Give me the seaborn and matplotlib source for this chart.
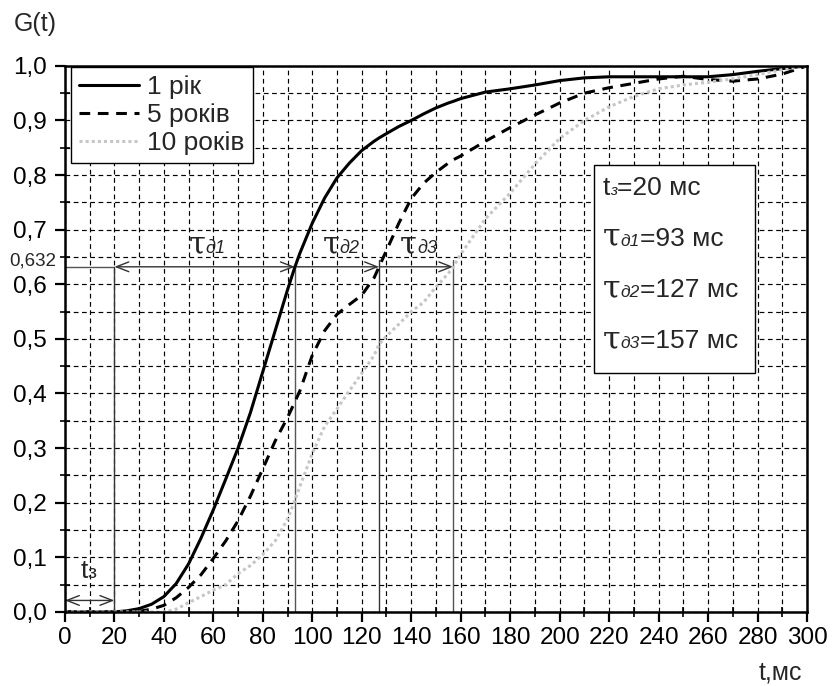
import matplotlib
matplotlib.use("Agg")
import matplotlib.pyplot as plt
import pandas as pd
import seaborn as sns
from matplotlib.offsetbox import TextArea, HPacker, AnnotationBbox
from matplotlib.patches import Rectangle
from matplotlib.ticker import MultipleLocator, FuncFormatter

# Transient characteristic G(t) for three ageing times
t_ms = [0, 10, 20, 25, 30, 35, 40, 45, 50, 55, 60, 65, 70, 75, 80, 85, 90, 93,
        95, 100, 105, 110, 115, 120, 125, 127, 130, 135, 140, 145, 150, 155,
        157, 160, 170, 180, 190, 200, 210, 220, 230, 240, 250, 260, 270, 280,
        290, 300]
g_1yr = [0, 0, 0, 0.002, 0.006, 0.014, 0.028, 0.052, 0.088, 0.135, 0.187,
         0.243, 0.300, 0.365, 0.440, 0.515, 0.590, 0.632, 0.657, 0.712, 0.758,
         0.795, 0.822, 0.845, 0.862, 0.868, 0.876, 0.889, 0.900, 0.912, 0.923,
         0.932, 0.935, 0.940, 0.952, 0.958, 0.965, 0.973, 0.978, 0.980, 0.980,
         0.980, 0.980, 0.980, 0.984, 0.990, 0.995, 1.0]
g_5yr = [0, 0, 0, 0, 0.001, 0.005, 0.012, 0.026, 0.045, 0.068, 0.098, 0.130,
         0.167, 0.212, 0.262, 0.313, 0.356, 0.385, 0.405, 0.470, 0.515, 0.545,
         0.563, 0.580, 0.612, 0.632, 0.662, 0.712, 0.757, 0.785, 0.805, 0.822,
         0.828, 0.835, 0.862, 0.887, 0.910, 0.932, 0.950, 0.960, 0.968, 0.976,
         0.981, 0.975, 0.972, 0.976, 0.985, 1.0]
g_10yr = [0, 0, 0, 0, 0, 0, 0, 0.005, 0.017, 0.028, 0.040, 0.050, 0.070,
          0.085, 0.105, 0.130, 0.170, 0.205, 0.230, 0.290, 0.340, 0.372,
          0.405, 0.437, 0.470, 0.490, 0.505, 0.527, 0.550, 0.567, 0.595,
          0.620, 0.632, 0.655, 0.720, 0.767, 0.820, 0.867, 0.900, 0.925,
          0.944, 0.958, 0.965, 0.970, 0.976, 0.984, 0.993, 1.0]
series_labels = ["1 рік", "5 років", "10 років"]

t_delay = 20                 # tз, ms
tau_values = [93, 127, 157]  # τд1, τд2, τд3, ms
level = 0.632

sns.set_style("white")
plt.rcParams["font.family"] = ["Liberation Sans", "DejaVu Sans"]

fig = plt.figure(figsize=(8.32, 6.86), dpi=100)
ax = fig.add_axes([0.078, 0.108, 0.892, 0.796])

df = pd.DataFrame({
    "t": t_ms * 3,
    "G": g_1yr + g_5yr + g_10yr,
    "series": [series_labels[0]] * len(t_ms) + [series_labels[1]] * len(t_ms)
              + [series_labels[2]] * len(t_ms),
})
palette = {series_labels[0]: "black", series_labels[1]: "black",
           series_labels[2]: "#c6c6c6"}
dashes = {series_labels[0]: "", series_labels[1]: (3.5, 2.5),
          series_labels[2]: (1, 1)}
sns.lineplot(data=df, x="t", y="G", hue="series", style="series",
             palette=palette, dashes=dashes, linewidth=2.2, sort=False,
             estimator=None, ax=ax, zorder=5)

ax.set_xlim(0, 300)
ax.set_ylim(0, 1.0)
ax.set_xlabel("")
ax.set_ylabel("")

ax.xaxis.set_major_locator(MultipleLocator(20))
ax.xaxis.set_minor_locator(MultipleLocator(10))
ax.yaxis.set_major_locator(MultipleLocator(0.1))
ax.yaxis.set_minor_locator(MultipleLocator(0.05))
ax.yaxis.set_major_formatter(FuncFormatter(lambda v, p: f"{v:.1f}".replace(".", ",")))
ax.xaxis.set_major_formatter(FuncFormatter(lambda v, p: f"{v:.0f}"))

ax.set_axisbelow(True)
ax.grid(which="both", color="black", linestyle=(0, (4, 3)), linewidth=0.85)

ax.tick_params(which="major", direction="out", length=7, width=1.6,
               labelsize=17.5, bottom=True, left=True, pad=4, colors="black")
ax.tick_params(axis="y", which="major", pad=6)
ax.tick_params(which="minor", direction="inout", length=7, width=1.2,
               bottom=True, left=True, colors="black")
for side in ["left", "bottom", "right", "top"]:
    ax.spines[side].set_color("black")
    ax.spines[side].set_linewidth(1.8)
    ax.spines[side].set_zorder(6)

handles, labels = ax.get_legend_handles_labels()
ax.legend(handles=handles, labels=labels, loc="upper left",
          bbox_to_anchor=(0.008, 0.998), borderaxespad=0, fontsize=19,
          frameon=True, fancybox=False, edgecolor="black", framealpha=1,
          handlelength=2.3, handletextpad=0.3, labelspacing=0.15,
          borderpad=0.3).get_frame().set_linewidth(1.0)

# Reference lines and dimension arrows
line_col = "#555555"
ax.plot([0, t_delay], [level, level], color=line_col, lw=1.0, zorder=4)
ax.plot([t_delay, t_delay], [0, level], color="#333333", lw=1.0, zorder=4)
ax.plot([tau_values[0]] * 2, [0, level], color=line_col, lw=1.0, zorder=4)
ax.plot([tau_values[1]] * 2, [0, level + 0.013], color="#333333", lw=1.0, zorder=4)
ax.plot([tau_values[2]] * 2, [0, level + 0.013], color=line_col, lw=1.0, zorder=4)

arrow_kw = dict(color="#333333", lw=1.0, shrinkA=0, shrinkB=0)
head = "head_length=0.9,head_width=0.35"
ax.annotate("", xy=(tau_values[0], level), xytext=(t_delay, level),
            arrowprops=dict(arrowstyle="<->," + head, **arrow_kw))
ax.annotate("", xy=(tau_values[1], level), xytext=(tau_values[0], level),
            arrowprops=dict(arrowstyle="->," + head, **arrow_kw))
ax.annotate("", xy=(tau_values[2], level), xytext=(tau_values[1], level),
            arrowprops=dict(arrowstyle="->," + head, **arrow_kw))
ax.annotate("", xy=(t_delay, 0.021), xytext=(0, 0.021),
            arrowprops=dict(arrowstyle="<->," + head, **arrow_kw))


def sub_label(x, y, parts, align=(0.5, 0.5)):
    """Place a run of differently styled text pieces on one baseline."""
    children = [TextArea(s, textprops=props) for s, props in parts]
    pack = HPacker(children=children, align="baseline", pad=0, sep=0)
    ab = AnnotationBbox(pack, (x, y), xycoords="data", frameon=False,
                        box_alignment=align, pad=0, zorder=8)
    ax.add_artist(ab)


serif = ["DejaVu Serif", "Liberation Serif"]
tau_main = dict(fontsize=22, family=serif)
tau_sub = dict(fontsize=13, style="italic")
sub_label(57.5, 0.672, [("τ", tau_main), ("д1", tau_sub)])
sub_label(111.5, 0.672, [("τ", tau_main), ("д2", tau_sub)])
sub_label(143.0, 0.672, [("τ", tau_main), ("д3", tau_sub)])
sub_label(9.5, 0.075, [("t", dict(fontsize=19)), ("з", dict(fontsize=14))])

# Parameter box
ax.add_patch(Rectangle((214, 0.438), 65, 0.381, facecolor="white",
                       edgecolor="black", lw=1.0, zorder=7))
box_main = dict(fontsize=19)
box_tau = dict(fontsize=23, family=serif)
box_sub = dict(fontsize=12.5, style="italic")
sub_label(217.5, 0.776, [("t", box_main), ("з", dict(fontsize=11, style="italic")),
                         (f"={t_delay} мс", box_main)], align=(0, 0.5))
for i, (tau, yy) in enumerate(zip(tau_values, [0.686, 0.592, 0.498])):
    sub_label(217.5, yy, [("τ", box_tau), (f"д{i + 1}", box_sub),
                          (f"={tau} мс", box_main)], align=(0, 0.5))

ax.text(-3.5, 0.643, "0,632", fontsize=13.5, ha="right", va="center")

fig.text(0.042, 0.965, "G(t)", fontsize=18, ha="center", va="center")
fig.text(0.938, 0.020, "t,мс", fontsize=18, ha="center", va="center")

fig.savefig("out.png", dpi=100)
